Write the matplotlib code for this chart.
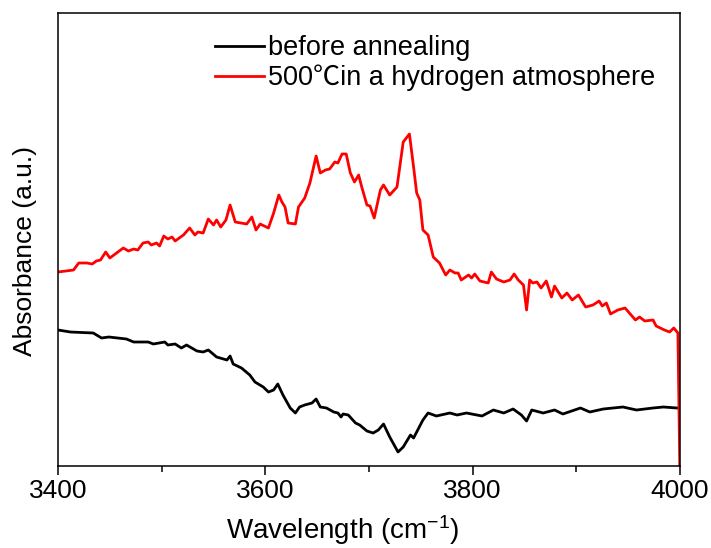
import matplotlib
matplotlib.use("Agg")
import matplotlib.pyplot as plt
from matplotlib.ticker import MultipleLocator

plt.rcParams['font.family'] = ['Liberation Sans', 'Noto Sans CJK SC', 'DejaVu Sans']
plt.rcParams['mathtext.fontset'] = 'custom'
plt.rcParams['mathtext.rm'] = 'Liberation Sans'
plt.rcParams['mathtext.default'] = 'regular'

# Spectrum after annealing at 500 C in hydrogen (red)
red_wn = [3400, 3415, 3420, 3428, 3433, 3437, 3441, 3446, 3450, 3463, 3468, 3473, 3477,
          3482, 3487, 3490, 3495, 3498, 3502, 3506, 3510, 3513, 3521, 3527, 3532, 3535,
          3540, 3545, 3550, 3553, 3557, 3562, 3566, 3571, 3582, 3587, 3591, 3595, 3603,
          3608, 3613, 3616, 3619, 3622, 3629, 3632, 3638, 3643, 3649, 3653, 3658, 3662,
          3667, 3670, 3674, 3678, 3682, 3686, 3690, 3693, 3698, 3701, 3705, 3711, 3714,
          3720, 3727, 3733, 3739, 3743, 3746, 3749, 3752, 3757, 3762, 3768, 3774, 3778,
          3783, 3786, 3789, 3796, 3799, 3802, 3807, 3815, 3818, 3823, 3830, 3836, 3840,
          3844, 3849, 3852, 3855, 3858, 3862, 3866, 3871, 3876, 3879, 3886, 3891, 3896,
          3902, 3909, 3916, 3922, 3925, 3929, 3933, 3940, 3947, 3957, 3961, 3966, 3974,
          3977, 3985, 3990, 3994, 3998, 4000]
red_abs = [190, 192, 199, 199, 198, 201, 202, 210, 204, 214, 211, 213, 212,
           219, 220, 217, 219, 216, 226, 223, 225, 221, 227, 234, 227, 230,
           229, 243, 237, 242, 235, 242, 257, 240, 238, 245, 232, 238, 234,
           249, 267, 260, 255, 239, 238, 255, 264, 279, 306, 289, 292, 293,
           300, 299, 308, 308, 289, 280, 287, 275, 257, 256, 244, 272, 277,
           267, 275, 320, 328, 295, 269, 262, 232, 227, 205, 199, 187, 192,
           189, 189, 182, 187, 184, 188, 181, 179, 190, 183, 180, 182, 188,
           182, 177, 152, 182, 179, 180, 174, 181, 165, 176, 164, 169, 162,
           167, 155, 157, 161, 156, 159, 148, 152, 154, 142, 145, 141, 142,
           136, 132, 130, 134, 129, -20]

# Spectrum before annealing (black)
black_wn = [3400, 3412, 3434, 3442, 3449, 3466, 3473, 3487, 3492, 3503, 3506, 3513, 3519,
            3524, 3534, 3540, 3545, 3553, 3563, 3566, 3569, 3577, 3585, 3590, 3598, 3603,
            3608, 3612, 3617, 3624, 3629, 3633, 3638, 3645, 3649, 3653, 3659, 3666, 3670,
            3673, 3675, 3680, 3687, 3691, 3698, 3704, 3709, 3714, 3720, 3728, 3733, 3740,
            3743, 3748, 3752, 3757, 3765, 3778, 3785, 3794, 3809, 3820, 3830, 3839, 3847,
            3852, 3857, 3868, 3879, 3887, 3904, 3913, 3926, 3945, 3958, 3974, 3984, 3997,
            4000]
black_abs = [132, 130, 129, 124, 125, 123, 120, 120, 118, 120, 117, 118, 114,
             117, 111, 110, 112, 105, 102, 106, 98, 94, 87, 80, 75, 70,
             72, 78, 67, 54, 49, 55, 57, 59, 63, 55, 54, 50, 49,
             45, 48, 47, 39, 37, 31, 29, 32, 38, 25, 10, 15, 27,
             24, 34, 42, 49, 46, 49, 47, 49, 46, 52, 49, 53, 47,
             41, 52, 49, 52, 48, 54, 50, 53, 55, 52, 54, 55, 54,
             54]

labels = ["before annealing", "500\u2103in a hydrogen atmosphere"]
x_ticks = [3400, 3600, 3800, 4000]

fig = plt.figure(figsize=(7.11, 5.48), dpi=100)
ax = fig.add_axes([58 / 711, (548 - 466) / 548, 622 / 711, 453 / 548])

ax.plot(black_wn, black_abs, color='black', lw=2.0, label=labels[0])
ax.plot(red_wn, red_abs, color='#ff0000', lw=2.0, label=labels[1])

ax.set_xlim(3400, 4000)
ax.set_ylim(-4, 449)
ax.set_xticks(x_ticks)
ax.xaxis.set_minor_locator(MultipleLocator(100))
ax.set_yticks([])
ax.tick_params(axis='x', which='major', direction='out', length=6.5, width=1.1,
               labelsize=19, pad=3)
ax.tick_params(axis='x', which='minor', direction='out', length=4.5, width=1.1)
for s in ax.spines.values():
    s.set_linewidth(1.1)

ax.set_xlabel("Wavelength (cm$^{-1}$)", fontsize=20)
ax.xaxis.set_label_coords(0.458, -0.105)
ax.set_ylabel("Absorbance (a.u.)", fontsize=19)
ax.yaxis.set_label_coords(-0.033, 0.475)

for t in ax.legend(loc='upper left', bbox_to_anchor=(0.235, 0.975), frameon=False,
                   fontsize=19.5, handlelength=1.8, handletextpad=0.15,
                   labelspacing=0.12, borderaxespad=0.0).get_texts():
    t.set_family(['Liberation Sans', 'Noto Sans CJK SC'])

fig.savefig("out.png", dpi=100)
